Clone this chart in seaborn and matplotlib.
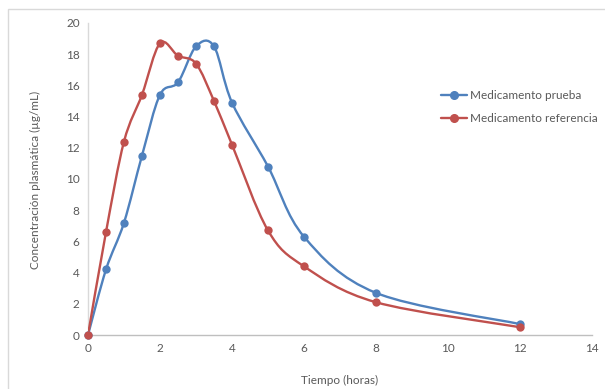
import numpy as np
import matplotlib
matplotlib.use("Agg")
import matplotlib.pyplot as plt
from matplotlib.path import Path
from matplotlib.patches import PathPatch, Rectangle
from matplotlib.lines import Line2D
import seaborn as sns

sns.set_theme(style="white")
plt.rcParams['font.family'] = ['Lato', 'DejaVu Sans']

# datos
tiempo = [0, 0.5, 1, 1.5, 2, 2.5, 3, 3.5, 4, 5, 6, 8, 12]
prueba = [0, 4.2, 7.2, 11.5, 15.4, 16.2, 18.5, 18.5, 14.9, 10.8, 6.3, 2.7, 0.7]
referencia = [0, 6.6, 12.4, 15.4, 18.7, 17.9, 17.4, 15.0, 12.2, 6.7, 4.4, 2.1, 0.5]
series = ["Medicamento prueba", "Medicamento referencia"]
colores = ["#4F81BD", "#C0504D"]
xticks = [0, 2, 4, 6, 8, 10, 12, 14]
yticks = [0, 2, 4, 6, 8, 10, 12, 14, 16, 18, 20]


def curva_suave(x, y):
    # curva bezier tipo Excel (catmull-rom) a partir de los puntos
    p = np.column_stack([x, y]).astype(float)
    n = len(p)
    verts = [p[0]]
    codes = [Path.MOVETO]
    for i in range(n - 1):
        p0 = p[i - 1] if i > 0 else p[i]
        p3 = p[i + 2] if i + 2 < n else p[i + 1]
        c1 = p[i] + (p[i + 1] - p0) / 6
        c2 = p[i + 1] - (p3 - p[i]) / 6
        verts += [c1, c2, p[i + 1]]
        codes += [Path.CURVE4] * 3
    return Path(verts, codes)


fig = plt.figure(figsize=(6.05, 3.89), dpi=100)
fig.patches.append(Rectangle((8 / 605, -0.01), 1.0, (389 - 9) / 389 + 0.01,
                             transform=fig.transFigure, fill=False,
                             edgecolor="#d9d9d9", linewidth=1))
ax = fig.add_axes([88 / 605, 54 / 389, 504 / 605, 312 / 389])

for vals, nombre, col in zip([prueba, referencia], series, colores):
    ax.add_patch(PathPatch(curva_suave(tiempo, vals), facecolor="none",
                           edgecolor=col, linewidth=1.7, zorder=3))
    sns.scatterplot(x=tiempo, y=vals, color=col, s=36, edgecolor=col,
                    linewidth=0, ax=ax, zorder=4, clip_on=False)

ax.set_xlim(0, 14)
ax.set_ylim(0, 20)
ax.set_xticks(xticks)
ax.set_yticks(yticks)
ax.tick_params(axis="both", labelsize=8.5, labelcolor="#595959", length=0, pad=6)
for s in ["top", "right"]:
    ax.spines[s].set_visible(False)
ax.spines["left"].set_color("#d9d9d9")
ax.spines["bottom"].set_color("#bfbfbf")
ax.spines["left"].set_linewidth(1)
ax.spines["bottom"].set_linewidth(1)

fig.text(35 / 605, 1 - 180 / 389, "Concentración plasmática (µg/mL)", rotation=90,
         ha="center", va="center", fontsize=8.5, color="#595959")
fig.text(340 / 605, 1 - 380 / 389, "Tiempo (horas)", ha="center", va="center",
         fontsize=8.5, color="#595959")

handles = [Line2D([0], [0], color=c, marker="o", markersize=5.5, linewidth=1.7)
           for c in colores]
leg = ax.legend(handles, series, loc="upper left", bbox_to_anchor=(435 / 605, 1 - 84 / 389),
                bbox_transform=fig.transFigure, frameon=False, fontsize=8.5,
                handlelength=2.2, handletextpad=0.3, labelspacing=1.0, borderpad=0)
for t in leg.get_texts():
    t.set_color("#595959")

fig.savefig("out.png", dpi=100)
